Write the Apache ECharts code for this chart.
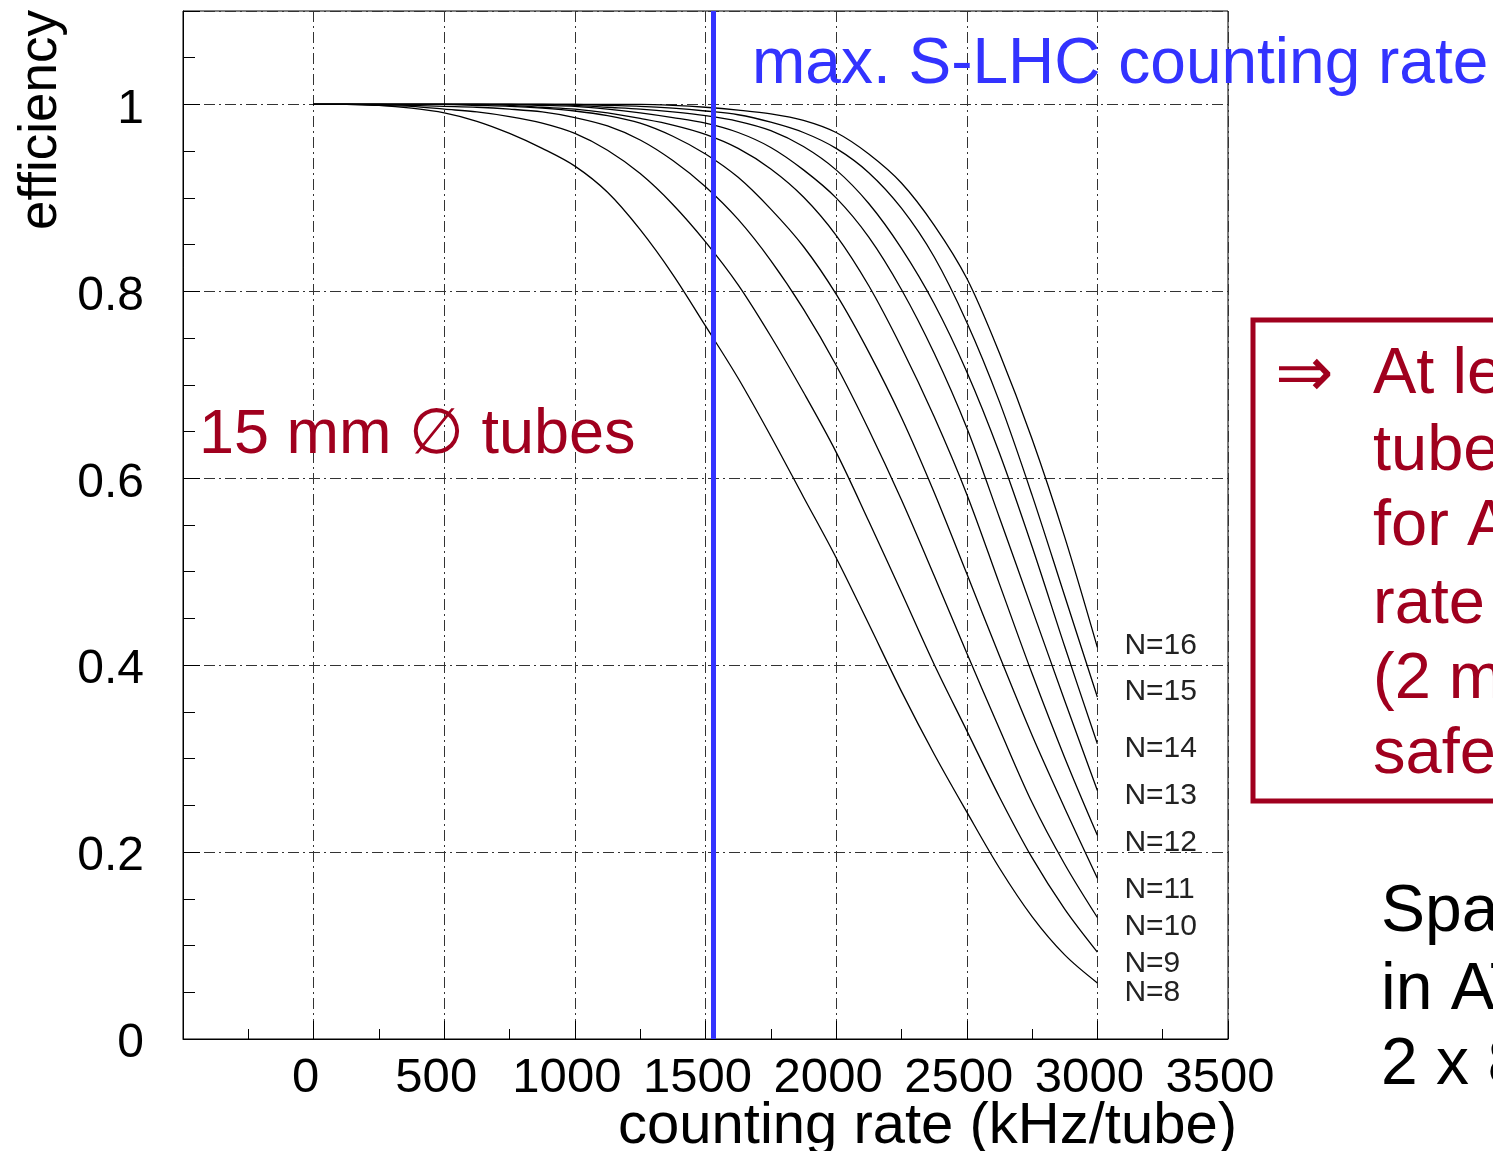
<!DOCTYPE html>
<html>
<head>
<meta charset="utf-8">
<script src="https://cdn.jsdelivr.net/npm/echarts@6/dist/echarts.min.js"></script>
<style>
html,body{margin:0;padding:0;background:#fff;}
#chart{width:1493px;height:1151px;}
</style>
</head>
<body>
<div id="chart"></div>
<script>
// ---- data ----
const RATE = [0, 125, 250, 375, 500, 625, 750, 875, 1000, 1125, 1250, 1375, 1500,
              1625, 1750, 1875, 2000, 2125, 2250, 2375, 2500, 2625, 2750, 2875, 3000]; // kHz/tube
const EFF_N8  = [1.000, 1.000, 0.999, 0.996, 0.991, 0.982, 0.969, 0.953, 0.934, 0.906, 0.866, 0.818, 0.763,
                 0.707, 0.645, 0.580, 0.515, 0.444, 0.372, 0.305, 0.243, 0.183, 0.131, 0.090, 0.060];
const EFF_N9  = [1.000, 1.000, 0.999, 0.998, 0.995, 0.992, 0.987, 0.980, 0.969, 0.951, 0.926, 0.893, 0.853,
                 0.807, 0.752, 0.692, 0.628, 0.554, 0.478, 0.401, 0.330, 0.259, 0.194, 0.139, 0.093];
const EFF_N10 = [1.000, 1.000, 1.000, 0.999, 0.998, 0.997, 0.995, 0.992, 0.986, 0.977, 0.962, 0.940, 0.912,
                 0.877, 0.833, 0.781, 0.721, 0.652, 0.577, 0.496, 0.413, 0.332, 0.253, 0.187, 0.130];
const EFF_N11 = [1.000, 1.000, 1.000, 1.000, 1.000, 0.999, 0.998, 0.996, 0.993, 0.988, 0.980, 0.966, 0.947,
                 0.922, 0.888, 0.848, 0.797, 0.735, 0.665, 0.585, 0.498, 0.410, 0.325, 0.247, 0.172];
const EFF_N12 = [1.000, 1.000, 1.000, 1.000, 1.000, 1.000, 0.999, 0.997, 0.995, 0.991, 0.985, 0.978, 0.968,
                 0.953, 0.931, 0.901, 0.860, 0.806, 0.740, 0.666, 0.583, 0.487, 0.391, 0.301, 0.218];
const EFF_N13 = [1.000, 1.000, 1.000, 1.000, 1.000, 1.000, 1.000, 0.999, 0.998, 0.995, 0.991, 0.986, 0.980,
                 0.970, 0.954, 0.930, 0.900, 0.858, 0.802, 0.734, 0.654, 0.558, 0.460, 0.362, 0.266];
const EFF_N14 = [1.000, 1.000, 1.000, 1.000, 1.000, 1.000, 1.000, 1.000, 0.999, 0.997, 0.995, 0.992, 0.988,
                 0.982, 0.972, 0.955, 0.930, 0.894, 0.846, 0.787, 0.714, 0.627, 0.527, 0.420, 0.316];
const EFF_N15 = [1.000, 1.000, 1.000, 1.000, 1.000, 1.000, 1.000, 1.000, 1.000, 0.999, 0.998, 0.996, 0.993,
                 0.989, 0.981, 0.970, 0.953, 0.927, 0.889, 0.837, 0.767, 0.682, 0.582, 0.474, 0.366];
const EFF_N16 = [1.000, 1.000, 1.000, 1.000, 1.000, 1.000, 1.000, 1.000, 1.000, 1.000, 1.000, 0.999, 0.997,
                 0.994, 0.990, 0.983, 0.970, 0.947, 0.916, 0.871, 0.814, 0.734, 0.642, 0.537, 0.419];
const CURVE_NAMES = ['N=8', 'N=9', 'N=10', 'N=11', 'N=12', 'N=13', 'N=14', 'N=15', 'N=16'];
const SLHC_MAX_RATE = 1530; // kHz/tube, "max. S-LHC counting rate"
const X_MIN = -500, X_MAX = 3500, X_STEP = 500;
const Y_MIN = 0, Y_MAX = 1.1, Y_STEP = 0.2;

// ---- styling ----
const EFFS = [EFF_N8, EFF_N9, EFF_N10, EFF_N11, EFF_N12, EFF_N13, EFF_N14, EFF_N15, EFF_N16];
const LABEL_OFFSETS = [[19, 10], [19, 12], [19, 9], [19, 11], [19, 7], [19, 5], [19, 5], [19, -5], [19, -2]];
const FONT = '"Liberation Sans", Arial, Helvetica, "DejaVu Sans", sans-serif';
const RED = '#A0001E';
const BLUE = '#3333FF';
const DASHDOT = [11, 4, 2, 4];

const chart = echarts.init(document.getElementById('chart'), null, {renderer: 'canvas'});

const series = EFFS.map((eff, k) => ({
  name: CURVE_NAMES[k],
  type: 'line',
  data: RATE.map((x, i) => [x, eff[i]]),
  symbol: 'none',
  smooth: 0.33,
  lineStyle: {color: '#000', width: 1.3},
  z: 3,
  endLabel: {
    show: true,
    formatter: CURVE_NAMES[k],
    offset: LABEL_OFFSETS[k],
    fontFamily: FONT,
    fontSize: 30,
    color: '#222'
  },
  animation: false
}));

series.push({
  name: 'S-LHC',
  type: 'line',
  data: [],
  z: 6,
  markLine: {
    silent: true,
    symbol: ['none', 'none'],
    label: {show: false},
    lineStyle: {color: BLUE, width: 5, type: 'solid'},
    data: [{xAxis: SLHC_MAX_RATE}],
    animation: false
  },
  animation: false
});

const boxLines = ['At lea', 'tubes', 'for AT', 'rate', '(2 m', 'safet'];
const boxY = [375, 452, 527, 605, 680, 755];
const sideLines = ['Spac', 'in AT', '2 x 8'];
const sideY = [913, 991, 1066];

const graphics = [
  {type: 'text', x: 752, y: 65, style: {text: 'max. S-LHC counting rate', fill: BLUE, font: '64px ' + FONT, textVerticalAlign: 'middle', textAlign: 'left'}, z: 10},
  {type: 'text', x: 199, y: 436, style: {text: '15 mm \u2205 tubes', fill: RED, font: '63px ' + FONT, textVerticalAlign: 'middle', textAlign: 'left'}, z: 10},
  {type: 'rect', shape: {x: 1253, y: 320, width: 400, height: 481}, style: {fill: 'none', stroke: RED, lineWidth: 5}, z: 10},
  {type: 'text', x: 1275, y: 378, style: {text: '\u21D2', fill: RED, font: '70px "DejaVu Sans", ' + FONT, textVerticalAlign: 'middle', textAlign: 'left'}, z: 10},
  {type: 'text', x: 41, y: 120, rotation: Math.PI / 2, style: {text: 'efficiency', fill: '#000', font: '53px ' + FONT, textVerticalAlign: 'middle', textAlign: 'center'}, z: 10},
  {type: 'text', x: 1237, y: 1127, style: {text: 'counting rate (kHz/tube)', fill: '#000', font: '58px ' + FONT, textVerticalAlign: 'middle', textAlign: 'right'}, z: 10}
];
boxLines.forEach((t, i) => graphics.push({type: 'text', x: 1373, y: boxY[i], style: {text: t, fill: RED, font: '65px ' + FONT, textVerticalAlign: 'middle', textAlign: 'left'}, z: 10}));
sideLines.forEach((t, i) => graphics.push({type: 'text', x: 1381, y: sideY[i], style: {text: t, fill: '#000', font: '66px ' + FONT, textVerticalAlign: 'middle', textAlign: 'left'}, z: 10}));

chart.setOption({
  animation: false,
  backgroundColor: '#fff',
  grid: {left: 183, right: 265, top: 11, bottom: 112, show: true, borderColor: '#000', borderWidth: 1, backgroundColor: 'transparent'},
  xAxis: {
    type: 'value', min: X_MIN, max: X_MAX, interval: X_STEP,
    axisLine: {show: true, onZero: false, lineStyle: {color: '#000', width: 1}},
    axisTick: {show: true, inside: true, length: 18, lineStyle: {color: '#000'}},
    minorTick: {show: true, splitNumber: 2, length: 10, lineStyle: {color: '#000'}},
    axisLabel: {
      margin: 15, fontFamily: FONT, fontSize: 49, color: '#000', padding: [0, 16, 0, 0],
      formatter: v => (v < 0 ? '' : String(Math.round(v)))
    },
    splitLine: {show: true, lineStyle: {color: '#333', width: 1, type: DASHDOT}}
  },
  yAxis: {
    type: 'value', min: Y_MIN, max: Y_MAX, interval: Y_STEP,
    axisLine: {show: true, onZero: false, lineStyle: {color: '#000', width: 1}},
    axisTick: {show: true, inside: true, length: 17, lineStyle: {color: '#000'}},
    minorTick: {show: true, splitNumber: 4, length: 12, lineStyle: {color: '#000'}},
    axisLabel: {
      margin: 39, fontFamily: FONT, fontSize: 48, color: '#000',
      verticalAlign: 'top', lineHeight: 10,
      formatter: v => (v > 1.05 ? '' : String(Math.round(v * 10) / 10))
    },
    splitLine: {show: true, lineStyle: {color: '#333', width: 1, type: DASHDOT}}
  },
  series: series,
  graphic: graphics
});
</script>
</body>
</html>
